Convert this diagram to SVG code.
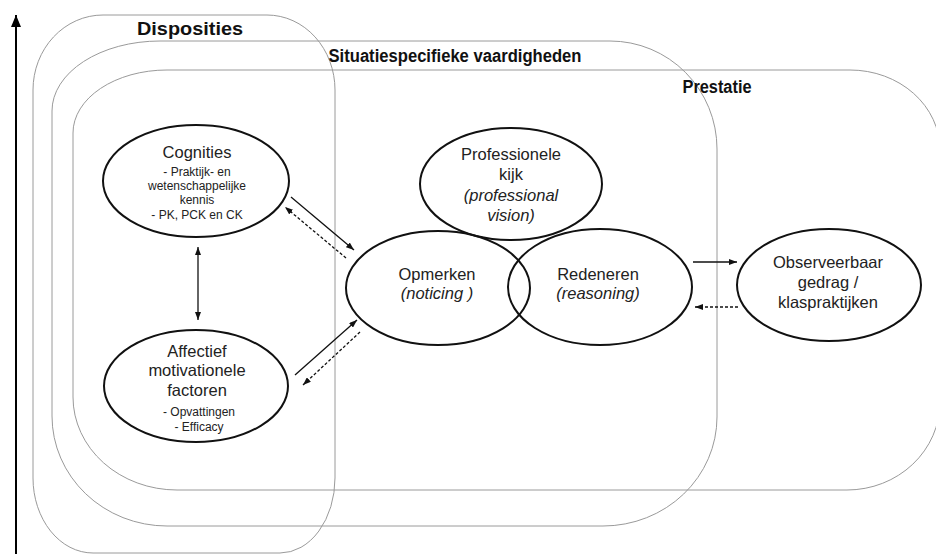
<svg xmlns="http://www.w3.org/2000/svg" width="936" height="554" viewBox="0 0 936 554">
<style>
.frame{fill:none;stroke:#9a9a9a;stroke-width:1}
.node{fill:none;stroke:#111;stroke-width:2}
.h{font-family:"Liberation Sans",Arial,sans-serif;font-weight:bold;font-size:18px;fill:#111;text-anchor:middle}
.t{font-family:"Liberation Sans",Arial,sans-serif;font-size:16.5px;fill:#222;text-anchor:middle}
.i{font-style:italic}
.s{font-family:"Liberation Sans",Arial,sans-serif;font-size:12px;fill:#222;text-anchor:middle}
.ln{stroke:#111;stroke-width:1.3;fill:none}
.dash{stroke-dasharray:3 2}
</style>
<defs>
<marker id="ah" markerUnits="userSpaceOnUse" markerWidth="8" markerHeight="6" refX="8" refY="3" orient="auto-start-reverse">
<path d="M0,0 L8,3 L0,6 z" fill="#111"/>
</marker>
<marker id="axh" markerUnits="userSpaceOnUse" markerWidth="10" markerHeight="12" refX="12" refY="5" orient="auto">
<path d="M0,0 L12,5 L0,10 z" fill="#000"/>
</marker>
</defs>

<g id="axis">
<line x1="16" y1="554" x2="16" y2="15" stroke="#000" stroke-width="2" marker-end="url(#axh)"/>
</g>

<g id="frames">
<g id="dispositie-frame">
<path class="frame" d="M103,15 H267 A68,75 0 0 1 335,90 V478 A55,75 0 0 1 280,553 H93 A60,75 0 0 1 33,478 V90 A70,75 0 0 1 103,15 Z"/>
<text class="h" x="190" y="35" textLength="106" lengthAdjust="spacingAndGlyphs">Disposities</text>
</g>
<g id="situatie-frame">
<path class="frame" d="M160,41 H610 A107,108 0 0 1 717,149 V417 A114,109 0 0 1 603,526 H167 A115,110 0 0 1 52,416 V111 A108,70 0 0 1 160,41 Z"/>
<text class="h" x="455" y="62" textLength="253" lengthAdjust="spacingAndGlyphs">Situatiespecifieke vaardigheden</text>
</g>
<g id="prestatie-frame">
<path class="frame" d="M167,70 H850 A90,80 0 0 1 940,150 V402 A93,88 0 0 1 847,490 H177 A104,93 0 0 1 73,397 V133 A94,63 0 0 1 167,70 Z"/>
<text class="h" x="717" y="93" textLength="69" lengthAdjust="spacingAndGlyphs">Prestatie</text>
</g>
</g>

<g id="cognities">
<ellipse class="node" cx="196" cy="181" rx="93" ry="56"/>
<text class="t" x="197" y="158">Cognities</text>
<text class="s" x="197" y="176">- Praktijk- en</text>
<text class="s" x="197" y="190">wetenschappelijke</text>
<text class="s" x="197" y="204">kennis</text>
<text class="s" x="197" y="219">- PK, PCK en CK</text>
</g>

<g id="affectief">
<ellipse class="node" cx="196" cy="386" rx="92" ry="56"/>
<text class="t" x="197" y="357">Affectief</text>
<text class="t" x="197" y="376">motivationele</text>
<text class="t" x="197" y="396">factoren</text>
<text class="s" x="199" y="416">- Opvattingen</text>
<text class="s" x="199" y="431">- Efficacy</text>
</g>

<g id="professionele-kijk">
<ellipse class="node" cx="511" cy="184" rx="91" ry="56"/>
<text class="t" x="511" y="160">Professionele</text>
<text class="t" x="511" y="180">kijk</text>
<text class="t i" x="511" y="201">(professional</text>
<text class="t i" x="511" y="221">vision)</text>
</g>

<g id="opmerken">
<ellipse class="node" cx="438" cy="288" rx="92" ry="57"/>
<text class="t" x="437" y="280">Opmerken</text>
<text class="t i" x="437" y="299">(noticing )</text>
</g>

<g id="redeneren">
<ellipse class="node" cx="600" cy="287" rx="92" ry="58"/>
<text class="t" x="598" y="280">Redeneren</text>
<text class="t i" x="598" y="299">(reasoning)</text>
</g>

<g id="observeerbaar">
<ellipse class="node" cx="829" cy="285" rx="92" ry="56"/>
<text class="t" x="828" y="268">Observeerbaar</text>
<text class="t" x="828" y="288">gedrag /</text>
<text class="t" x="828" y="308">klaspraktijken</text>
</g>

<g id="connectors">
<line class="ln" x1="198" y1="320" x2="198" y2="247" marker-start="url(#ah)" marker-end="url(#ah)"/>
<line class="ln" x1="291" y1="197" x2="354" y2="250" marker-end="url(#ah)"/>
<line class="ln dash" x1="346" y1="258" x2="285" y2="207" marker-end="url(#ah)"/>
<line class="ln" x1="295" y1="375" x2="357" y2="320" marker-end="url(#ah)"/>
<line class="ln dash" x1="360" y1="332" x2="303" y2="385" marker-end="url(#ah)"/>
<line class="ln" x1="693" y1="262" x2="737" y2="262" marker-end="url(#ah)"/>
<line class="ln dash" x1="738" y1="307" x2="695" y2="307" marker-end="url(#ah)"/>
</g>
</svg>
